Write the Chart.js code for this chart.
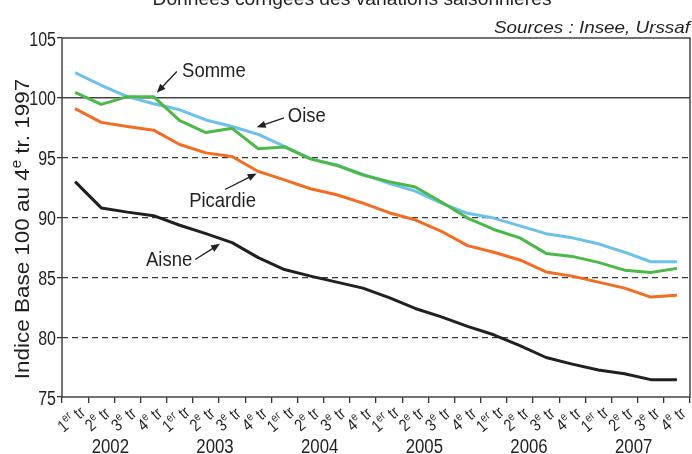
<!DOCTYPE html>
<html>
<head>
<meta charset="utf-8">
<script src="https://cdn.jsdelivr.net/npm/chart.js@4/dist/chart.umd.min.js"></script>
<style>
html,body{margin:0;padding:0;background:#fff;}
#wrap{width:692px;height:454px;position:relative;}
</style>
</head>
<body>
<div id="wrap"><canvas id="c" width="692" height="454"></canvas></div>
<script>
// ---- data ----
const years = ['2002', '2003', '2004', '2005', '2006', '2007'];
const quarters = ['1er tr', '2e tr', '3e tr', '4e tr'];
const categories = years.flatMap(y => quarters.map(q => q + ' ' + y));

const oise     = [102.1, 101.05, 100.1, 99.5, 99.0, 98.15, 97.6, 96.95, 95.95, 94.9, 94.4, 93.6, 92.85, 92.2, 91.2, 90.35, 89.95, 89.3, 88.65, 88.3, 87.8, 87.1, 86.3, 86.3];
const somme    = [100.45, 99.45, 100.1, 100.1, 98.1, 97.1, 97.45, 95.75, 95.9, 94.9, 94.35, 93.55, 93.0, 92.55, 91.3, 89.95, 89.0, 88.3, 87.0, 86.75, 86.25, 85.6, 85.4, 85.75];
const picardie = [99.1, 97.95, 97.6, 97.3, 96.1, 95.4, 95.1, 93.85, 93.15, 92.4, 91.9, 91.2, 90.4, 89.8, 88.85, 87.65, 87.1, 86.45, 85.45, 85.1, 84.6, 84.1, 83.35, 83.5];
const aisne    = [93.0, 90.8, 90.45, 90.15, 89.35, 88.65, 87.9, 86.65, 85.65, 85.1, 84.6, 84.1, 83.3, 82.4, 81.7, 80.9, 80.2, 79.3, 78.3, 77.75, 77.25, 76.95, 76.45, 76.45];

const yTicks = [75, 80, 85, 90, 95, 100, 105];

const titleText = 'Données corrigées des variations saisonnières';
const sourceText = 'Sources : Insee, Urssaf';
const yTitleParts = ['Indice Base 100 au 4', 'e', ' tr. 1997'];

// annotation labels (in data space: category index, value)
const annotations = [
  {text: 'Somme',    tx: 4.09, ty: 101.7,  ax0: 3.89, ay0: 102.2, ax1: 3.12, ay1: 100.42},
  {text: 'Oise',     tx: 8.13, ty: 97.94,  ax0: 7.99, ay0: 98.33, ax1: 6.94, ay1: 97.54},
  {text: 'Picardie', tx: 4.36, ty: 90.9,   ax0: 5.73, ay0: 92.34, ax1: 6.94, ay1: 93.68},
  {text: 'Aisne',    tx: 2.71, ty: 85.91,  ax0: 4.59, ay0: 86.49, ax1: 5.54, ay1: 87.8}
];

const FONT = "'Liberation Sans', Arial, sans-serif";
const SX = 0.84;            // horizontal condensing (narrow typeface look)
const TXT = '#231f20';

function txt(ctx, s, x, y, font, align, sx) {
  ctx.save();
  ctx.font = font;
  ctx.translate(x, y);
  ctx.scale(sx || SX, 1);
  ctx.textAlign = align || 'left';
  ctx.textBaseline = 'alphabetic';
  ctx.fillText(s, 0, 0);
  ctx.restore();
}
function fitSX(ctx, s, font, target) { ctx.font = font; return target / ctx.measureText(s).width; }
function w(ctx, s, font, sx) { ctx.font = font; return ctx.measureText(s).width * (sx || SX); }

function arrow(ctx, x0, y0, x1, y1) {
  const ang = Math.atan2(y1 - y0, x1 - x0);
  const L = 9, W = 3.6;
  ctx.save();
  ctx.strokeStyle = TXT; ctx.fillStyle = TXT; ctx.lineWidth = 1.3;
  ctx.beginPath();
  ctx.moveTo(x0, y0);
  ctx.lineTo(x1 - Math.cos(ang) * (L - 1), y1 - Math.sin(ang) * (L - 1));
  ctx.stroke();
  ctx.beginPath();
  ctx.moveTo(x1, y1);
  ctx.lineTo(x1 - Math.cos(ang) * L - Math.sin(ang) * W, y1 - Math.sin(ang) * L + Math.cos(ang) * W);
  ctx.lineTo(x1 - Math.cos(ang) * L + Math.sin(ang) * W, y1 - Math.sin(ang) * L - Math.cos(ang) * W);
  ctx.closePath();
  ctx.fill();
  ctx.restore();
}

const decor = {
  id: 'decor',
  beforeDraw(chart) {
    const ctx = chart.ctx;
    ctx.save();
    ctx.fillStyle = '#fff';
    ctx.fillRect(0, 0, chart.width, chart.height);
    ctx.restore();
  },
  beforeDatasetsDraw(chart) {
    const {ctx, chartArea: a, scales: {y}} = chart;
    const py = y.getPixelForValue(100);
    ctx.save();
    ctx.strokeStyle = '#444';
    ctx.lineWidth = 1.5;
    ctx.beginPath();
    ctx.moveTo(a.left, py); ctx.lineTo(a.right, py);
    ctx.stroke();
    ctx.restore();
  },
  afterDraw(chart) {
    const {ctx, chartArea: a, scales: {x, y}} = chart;
    ctx.save();
    ctx.fillStyle = TXT;
    // frame
    ctx.strokeStyle = '#444';
    ctx.lineWidth = 1.5;
    ctx.strokeRect(a.left, a.top, a.right - a.left, a.bottom - a.top);

    // title (cut at top)
    const tf = '19px ' + FONT;
    txt(ctx, titleText, 352, 5, tf, 'center', fitSX(ctx, titleText, tf, 399));

    // sources
    const sf = 'italic 17px ' + FONT;
    txt(ctx, sourceText, 690, 32.5, sf, 'right', fitSX(ctx, sourceText, sf, 196));

    // y tick labels
    yTicks.forEach(v => {
      txt(ctx, String(v), 56, y.getPixelForValue(v) + 7.5, '20px ' + FONT, 'right', 0.8);
    });

    // y-axis title with superscript
    ctx.save();
    ctx.translate(29, 229);
    ctx.rotate(-Math.PI / 2);
    const f1 = '21px ' + FONT, f2 = '14px ' + FONT;
    const full = yTitleParts[0] + yTitleParts[2];
    const ys = fitSX(ctx, full, f1, 292);
    const w0 = w(ctx, yTitleParts[0], f1, ys), w1 = w(ctx, yTitleParts[1], f2, ys), w2 = w(ctx, yTitleParts[2], f1, ys);
    let sx = -(w0 + w1 + w2) / 2;
    txt(ctx, yTitleParts[0], sx, 0, f1, 'left', ys); sx += w0;
    txt(ctx, yTitleParts[1], sx, -8, f2, 'left', ys); sx += w1;
    txt(ctx, yTitleParts[2], sx, 0, f1, 'left', ys);
    ctx.restore();

    // x tick labels (rotated, with superscript)
    const fq = '17px ' + FONT, fs = '12px ' + FONT;
    categories.forEach((c, i) => {
      const q = quarters[i % 4];
      const m = q.match(/^(\d)(\S+) (.*)$/);
      const cx = x.getPixelForValue(i);
      ctx.save();
      ctx.translate(cx - 4, 419);
      ctx.rotate(-40 * Math.PI / 180);
      const a0 = w(ctx, m[1], fq), a1 = w(ctx, m[2], fs), a2 = w(ctx, ' ' + m[3], fq);
      let px = -(a0 + a1 + a2) / 2;
      txt(ctx, m[1], px, 6, fq); px += a0;
      txt(ctx, m[2], px, -1, fs); px += a1;
      txt(ctx, ' ' + m[3], px, 6, fq);
      ctx.restore();
    });

    // year labels
    years.forEach((yr, k) => {
      const c0 = x.getPixelForValue(k * 4), c1 = x.getPixelForValue(k * 4 + 3);
      txt(ctx, yr, (c0 + c1) / 2 - 4, 453, '20px ' + FONT, 'center');
    });

    // annotations
    const step = x.getPixelForValue(1) - x.getPixelForValue(0);
    const ix = v => x.getPixelForValue(0) + step * v;
    annotations.forEach(an => {
      txt(ctx, an.text, ix(an.tx), y.getPixelForValue(an.ty), '21px ' + FONT, 'left', 0.88);
      arrow(ctx, ix(an.ax0), y.getPixelForValue(an.ay0), ix(an.ax1), y.getPixelForValue(an.ay1));
    });
    ctx.restore();
  }
};

const ds = (label, data, color) => ({
  label, data, borderColor: color, backgroundColor: color,
  borderWidth: 3, pointRadius: 0, tension: 0, fill: false,
  borderJoinStyle: 'round', borderCapStyle: 'butt'
});

new Chart(document.getElementById('c'), {
  type: 'line',
  data: {
    labels: categories,
    datasets: [
      ds('Aisne', aisne, '#231f20'),
      ds('Picardie', picardie, '#f26c22'),
      ds('Somme', somme, '#4cb847'),
      ds('Oise', oise, '#6cc0ea')
    ]
  },
  options: {
    responsive: false,
    animation: false,
    devicePixelRatio: 1,
    layout: {padding: {top: 38, right: 2, left: 0, bottom: 0}},
    plugins: {legend: {display: false}, tooltip: {enabled: false}, title: {display: false}},
    scales: {
      x: {
        type: 'category',
        offset: true,
        grid: {offset: true, drawOnChartArea: false, drawTicks: true, tickLength: 6, color: '#333', lineWidth: 1.3},
        border: {display: false},
        ticks: {display: false},
        afterFit(s) { s.height = 57; }
      },
      y: {
        min: 75, max: 105,
        afterBuildTicks(s) { s.ticks = yTicks.map(v => ({value: v})); },
        grid: {
          drawTicks: true, tickLength: 5,
          color: ctx => (ctx.tick && (ctx.tick.value === 100 || ctx.tick.value === 105 || ctx.tick.value === 75)) ? 'rgba(0,0,0,0)' : '#3a3a3a',
          tickColor: '#333',
          lineWidth: 1.3
        },
        border: {display: false, dash: [6, 4]},
        ticks: {display: false},
        afterFit(s) { s.width = 62; }
      }
    }
  },
  plugins: [decor]
});
</script>
</body>
</html>
